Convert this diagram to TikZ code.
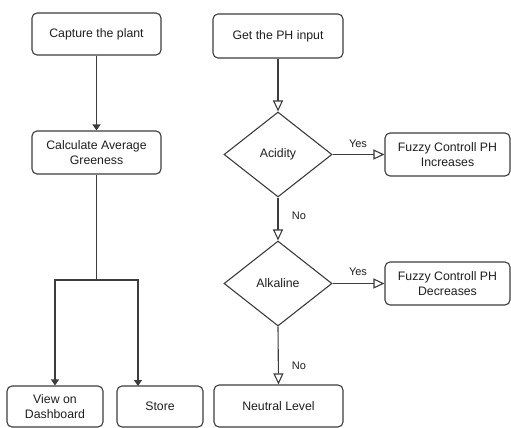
\documentclass[tikz,border=0pt]{standalone}
\usepackage{fontspec}
\setmainfont{Liberation Sans}
\usetikzlibrary{shapes.geometric,arrows.meta}
\definecolor{ln}{HTML}{3C3C3C}
\definecolor{tx}{HTML}{1E1E1E}
\begin{document}
\begin{tikzpicture}[x=1pt,y=-1pt,
  font=\fontsize{12.3}{15}\selectfont, text=tx,
  box/.style={draw=ln, line width=1.1pt, rounded corners=5pt, inner sep=0pt, align=center},
  dia/.style={draw=ln, line width=1.1pt, diamond, inner sep=0pt, minimum width=108pt, minimum height=85pt},
  farr/.style={draw=ln, line width=1.1pt, -{Triangle[length=6pt,width=8pt]}},
  oarr/.style={draw=ln, line width=1.1pt, -{Triangle[open,length=11pt,width=10pt,line width=1.1pt]}},
  plain/.style={draw=ln, line width=1.1pt},
  lbl/.style={font=\fontsize{11}{13}\selectfont, inner sep=0pt}]
\useasboundingbox (0,0) rectangle (511,428);
\node[box, minimum width=129pt, minimum height=42pt] (cap) at (96.5,34) {Capture the plant};
\node[box, minimum width=129pt, minimum height=43pt] (calc) at (96.5,152.5) {Calculate Average\\Greeness};
\node[box, minimum width=96pt, minimum height=41pt] (view) at (55,406.5) {View on\\Dashboard};
\node[box, minimum width=86pt, minimum height=41pt] (store) at (160,406.5) {Store};
\node[box, minimum width=130pt, minimum height=44pt] (ph) at (278,36) {Get the PH input};
\node[dia] (acid) at (278,154.5) {Acidity};
\node[box, minimum width=125pt, minimum height=43pt] (inc) at (447.5,154.5) {Fuzzy Controll PH\\Increases};
\node[dia] (alk) at (278,283.5) {Alkaline};
\node[box, minimum width=125pt, minimum height=43pt] (dec) at (447.5,283.5) {Fuzzy Controll PH\\Decreases};
\node[box, minimum width=129pt, minimum height=42pt] (neu) at (278.5,406) {Neutral Level};
\coordinate (j) at (96.5,280);
\coordinate (st) at (138,386);
\draw[farr] (cap) -- (calc);
\draw[plain] (calc.south) -- (j);
\draw[farr] (j) -| (view.north);
\draw[farr] (j) -| (st);
\draw[oarr] (ph) -- (acid.north);
\draw[oarr] (acid.east) -- (inc.west);
\draw[oarr] (acid.south) -- (alk.north);
\draw[oarr] (alk.east) -- (dec.west);
\draw[oarr] (alk.south) -- (neu.north);
\node[lbl] (y1) at (358,144) {Yes};
\node[lbl] (y2) at (358,272) {Yes};
\node[lbl] (n1) at (299,216) {No};
\node[lbl] (n2) at (299,366) {No};
\end{tikzpicture}
\end{document}
